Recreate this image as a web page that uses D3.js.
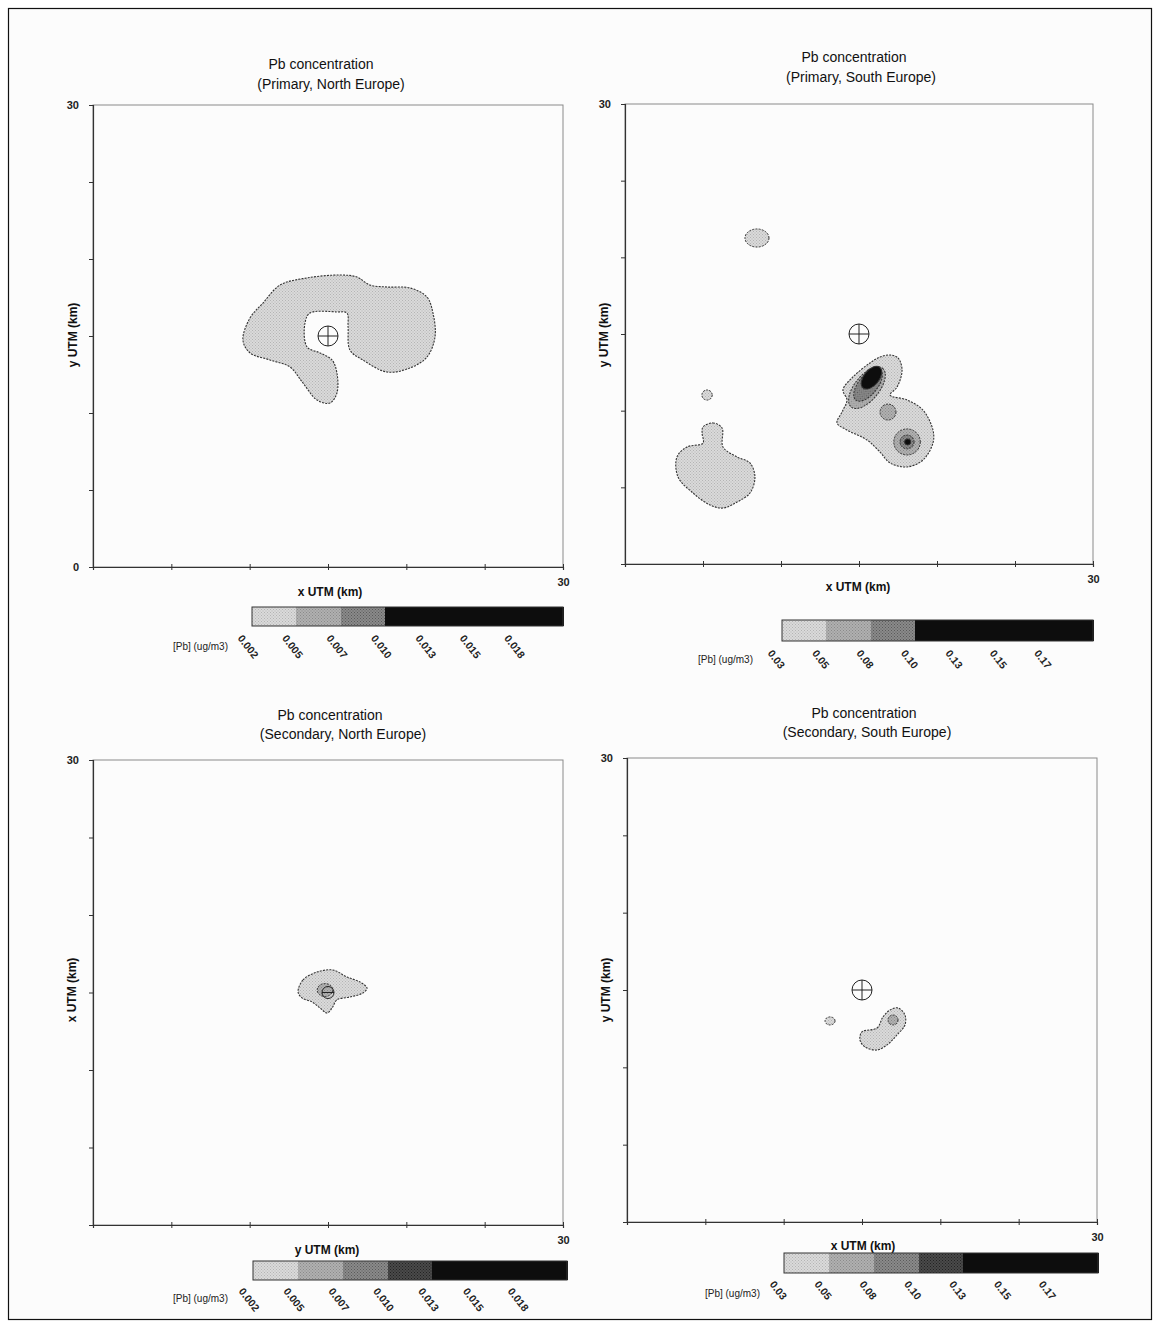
<!DOCTYPE html>
<html>
<head>
<meta charset="utf-8">
<script src="https://cdn.jsdelivr.net/npm/d3@7"></script>
<style>
  body { margin: 0; background: #fff; }
  svg { display: block; font-family: "Liberation Sans", Arial, sans-serif; }
</style>
</head>
<body>
<svg id="chart" width="1160" height="1327"></svg>
<script>
// ---- data (km on a 30 x 30 km UTM grid) ----
const ticksKm = [0, 5, 10, 15, 20, 25, 30];
const titleLine1 = "Pb concentration";
const titleLine2 = ["(Primary, North Europe)", "(Primary, South Europe)",
                    "(Secondary, North Europe)", "(Secondary, South Europe)"];
const xTitles = ["x UTM (km)", "x UTM (km)", "y UTM (km)", "x UTM (km)"];
const yTitles = ["y UTM (km)", "y UTM (km)", "x UTM (km)", "y UTM (km)"];
const legendUnit = "[Pb] (ug/m3)";
const legendNorth = ["0.002", "0.005", "0.007", "0.010", "0.013", "0.015", "0.018"];
const legendSouth = ["0.03", "0.05", "0.08", "0.10", "0.13", "0.15", "0.17"];
const source = [15, 15];

// contour outlines, [x km, y km]
const p1Blob = [[9.57,14.74],[10.02,16.17],[10.85,17.14],[11.94,18.31],[13.66,18.77],[15.77,18.96],
  [16.85,18.83],[17.68,18.31],[18.77,18.18],[20.23,18.12],[21.32,17.53],[21.70,16.49],[21.83,14.94],
  [21.32,13.64],[20.23,12.92],[18.77,12.66],[17.23,13.44],[16.40,14.09],[16.28,15.58],[16.21,16.49],
  [15.57,16.56],[13.85,16.49],[13.53,15.84],[13.66,14.29],[14.49,13.90],[15.26,13.44],[15.57,12.60],
  [15.57,11.30],[15.13,10.65],[14.30,10.84],[13.40,11.95],[12.57,12.99],[11.30,13.44],[10.02,13.90]];
const p2BlobWest = [[5.00,8.94],[5.64,9.20],[6.22,8.87],[6.28,7.63],[7.18,6.98],[8.01,6.59],[8.33,5.67],
  [8.01,4.63],[7.18,4.04],[6.28,3.65],[5.45,3.85],[4.36,4.63],[3.40,5.67],[3.33,6.98],[3.97,7.63],
  [5.00,7.89],[4.94,8.54]];
const p2BlobEast = [[16.99,13.63],[17.50,13.44],[17.76,12.65],[17.44,11.54],[16.99,11.02],[18.08,10.70],
  [19.10,10.04],[19.74,8.74],[19.74,7.89],[19.10,6.78],[18.08,6.33],[16.99,6.59],[16.35,7.30],
  [15.51,8.09],[14.23,8.74],[13.59,9.20],[13.91,9.91],[14.23,10.70],[13.97,11.35],[14.61,12.20],
  [15.70,13.11],[16.35,13.50]];
const p3Blob = [[13.09,15.03],[13.40,15.81],[14.30,16.32],[15.32,16.45],[16.21,16.00],[17.04,15.68],
  [17.49,15.29],[17.23,14.97],[16.40,14.71],[15.57,14.52],[15.26,14.00],[14.94,13.68],[14.49,14.00],
  [13.98,14.39],[13.34,14.65]];
const p4Blob = [[15.00,12.29],[15.96,12.54],[16.34,13.26],[16.79,13.71],[17.30,13.84],[17.74,13.39],
  [17.74,12.74],[17.23,12.09],[16.60,11.45],[15.96,11.12],[15.19,11.32],[14.87,11.77]];

const contours = [
  { panel: 0, level: 0, pts: p1Blob },
  { panel: 1, level: 0, pts: p2BlobWest },
  { panel: 1, level: 0, pts: p2BlobEast },
  { panel: 2, level: 0, pts: p3Blob },
  { panel: 3, level: 0, pts: p4Blob }
];
// small closed contours: centre, radii (km), tilt (deg)
const spots = [
  { panel: 1, level: 0, cx: 8.46, cy: 21.26, rx: 0.77, ry: 0.59, rot: 0 },
  { panel: 1, level: 0, cx: 5.26, cy: 11.02, rx: 0.33, ry: 0.33, rot: 0 },
  { panel: 1, level: 1, cx: 15.51, cy: 11.50, rx: 1.6, ry: 0.8, rot: -51 },
  { panel: 1, level: 2, cx: 15.58, cy: 11.68, rx: 1.25, ry: 0.62, rot: -51 },
  { panel: 1, level: 4, cx: 15.80, cy: 12.15, rx: 0.85, ry: 0.5, rot: -51 },
  { panel: 1, level: 1, cx: 16.86, cy: 9.91, rx: 0.51, ry: 0.52, rot: 0 },
  { panel: 1, level: 1, cx: 18.08, cy: 7.96, rx: 0.85, ry: 0.85, rot: 0 },
  { panel: 1, level: 2, cx: 18.08, cy: 7.96, rx: 0.45, ry: 0.45, rot: 0 },
  { panel: 1, level: 4, cx: 18.12, cy: 7.96, rx: 0.2, ry: 0.2, rot: 0 },
  { panel: 2, level: 1, cx: 14.81, cy: 15.16, rx: 0.5, ry: 0.42, rot: 0 },
  { panel: 3, level: 0, cx: 12.96, cy: 13.00, rx: 0.32, ry: 0.26, rot: 0 },
  { panel: 3, level: 1, cx: 16.98, cy: 13.06, rx: 0.32, ry: 0.32, rot: 0 }
];

// ---- layout ----
const layout = [
  { x0: 93, x1: 563, y0: 105, y1: 567, t1: [321, 69], t2: [331, 89], xt: [330, 596], yt: [77, 335],
    showZero: true, mark: 10, legend: legendNorth, shades: [0, 1, 2, 4, 4, 4, 4],
    leg: { x0: 252, x1: 563, y0: 607, y1: 626, unitX: 228, unitY: 650, labY: 634 } },
  { x0: 625, x1: 1093, y0: 104, y1: 564, t1: [854, 62], t2: [861, 82], xt: [858, 591], yt: [608, 335],
    showZero: false, mark: 10, legend: legendSouth, shades: [0, 1, 2, 4, 4, 4, 4],
    leg: { x0: 782, x1: 1093, y0: 620, y1: 641, unitX: 753, unitY: 663, labY: 649 } },
  { x0: 93, x1: 563, y0: 760, y1: 1225, t1: [330, 720], t2: [343, 739], xt: [327, 1254], yt: [76, 990],
    showZero: false, mark: 6, legend: legendNorth, shades: [0, 1, 2, 3, 4, 4, 4],
    leg: { x0: 253, x1: 567, y0: 1261, y1: 1280, unitX: 228, unitY: 1302, labY: 1287 } },
  { x0: 627, x1: 1097, y0: 758, y1: 1222, t1: [864, 718], t2: [867, 737], xt: [863, 1250], yt: [610, 990],
    showZero: false, mark: 10, legend: legendSouth, shades: [0, 1, 2, 3, 4, 4, 4],
    leg: { x0: 784, x1: 1098, y0: 1253, y1: 1273, unitX: 760, unitY: 1297, labY: 1280 } }
];
const levelFill = ["url(#dotLight)", "url(#dotMid)", "url(#dotDark)", "url(#dotDarker)", "#0d0d0d"];

const svg = d3.select("#chart");

// halftone-ish fills like the scan
const defs = svg.append("defs");
function dotPattern(id, base, dot) {
  const p = defs.append("pattern").attr("id", id).attr("width", 3).attr("height", 3)
    .attr("patternUnits", "userSpaceOnUse");
  p.append("rect").attr("width", 3).attr("height", 3).attr("fill", base);
  p.append("rect").attr("x", 0).attr("y", 0).attr("width", 1).attr("height", 1).attr("fill", dot);
  p.append("rect").attr("x", 1.5).attr("y", 1.5).attr("width", 1).attr("height", 1).attr("fill", dot);
}
dotPattern("dotLight", "#dadada", "#b4b4b4");
dotPattern("dotMid", "#b0b0b0", "#8a8a8a");
dotPattern("dotDark", "#8a8a8a", "#5a5a5a");
dotPattern("dotDarker", "#4a4a4a", "#222");

svg.append("rect").attr("x", 0).attr("y", 0).attr("width", 1160).attr("height", 1327).attr("fill", "#fff");
svg.append("rect").attr("x", 8.5).attr("y", 8.5).attr("width", 1143).attr("height", 1311)
  .attr("fill", "#fcfcfc").attr("stroke", "#111").attr("stroke-width", 1.2);

layout.forEach((L, i) => {
  const x = d3.scaleLinear().domain([0, 30]).range([L.x0, L.x1]);
  const y = d3.scaleLinear().domain([0, 30]).range([L.y1, L.y0]);
  const g = svg.append("g");

  // frame (top / right light)
  g.append("rect").attr("x", L.x0).attr("y", L.y0).attr("width", L.x1 - L.x0).attr("height", L.y1 - L.y0)
    .attr("fill", "none").attr("stroke", "#8a8a8a").attr("stroke-width", 1);

  // filled contours
  const line = d3.line().x(d => x(d[0])).y(d => y(d[1])).curve(d3.curveCatmullRomClosed.alpha(0.5));
  g.selectAll(".blob").data(contours.filter(c => c.panel === i)).join("path")
    .attr("d", d => line(d.pts))
    .attr("fill", d => levelFill[d.level])
    .attr("stroke", "#333").attr("stroke-width", 1.1).attr("stroke-dasharray", "2,1.2");

  g.selectAll(".spot").data(spots.filter(s => s.panel === i)).join("ellipse")
    .attr("cx", d => x(d.cx)).attr("cy", d => y(d.cy))
    .attr("rx", d => x(d.rx) - x(0)).attr("ry", d => y(0) - y(d.ry))
    .attr("transform", d => `rotate(${d.rot},${x(d.cx)},${y(d.cy)})`)
    .attr("fill", d => levelFill[d.level])
    .attr("stroke", "#333").attr("stroke-width", 1).attr("stroke-dasharray", d => d.level === 4 ? null : "2,1.2");

  // source marker
  const sx = x(source[0]), sy = y(source[1]), r = L.mark;
  const m = g.append("g").attr("stroke", "#222").attr("stroke-width", 1).attr("fill", "none");
  m.append("circle").attr("cx", sx).attr("cy", sy).attr("r", r);
  m.append("line").attr("x1", sx - r).attr("x2", sx + r).attr("y1", sy).attr("y2", sy);
  if (i !== 2) m.append("line").attr("x1", sx).attr("x2", sx).attr("y1", sy - r).attr("y2", sy + r);

  // axes
  const yAxis = d3.axisLeft(y).tickValues(ticksKm).tickSize(4).tickPadding(10)
    .tickFormat(d => d === 30 || (d === 0 && L.showZero) ? d : "");
  const ya = g.append("g").attr("transform", `translate(${L.x0},0)`).call(yAxis);
  const xAxis = d3.axisBottom(x).tickValues(ticksKm).tickSize(3).tickPadding(8)
    .tickFormat(d => d === 30 ? d : "");
  const xa = g.append("g").attr("transform", `translate(0,${L.y1})`).call(xAxis);
  xa.selectAll(".tick line").attr("y1", -3);
  [ya, xa].forEach(a => {
    a.select(".domain").attr("stroke", "#333").attr("stroke-width", 1.2);
    a.selectAll(".tick line").attr("stroke", "#333");
    a.selectAll("text").attr("font-family", "Liberation Sans, Arial").attr("font-size", 11)
      .attr("font-weight", "bold").attr("fill", "#222");
  });

  // titles
  g.append("text").attr("x", L.t1[0]).attr("y", L.t1[1]).attr("text-anchor", "middle")
    .attr("font-size", 14).attr("fill", "#111").text(titleLine1);
  g.append("text").attr("x", L.t2[0]).attr("y", L.t2[1]).attr("text-anchor", "middle")
    .attr("font-size", 14).attr("fill", "#111").text(titleLine2[i]);
  g.append("text").attr("x", L.xt[0]).attr("y", L.xt[1]).attr("text-anchor", "middle")
    .attr("font-size", 12).attr("font-weight", "bold").attr("fill", "#111").text(xTitles[i]);
  g.append("text").attr("transform", `translate(${L.yt[0]},${L.yt[1]}) rotate(-90)`)
    .attr("text-anchor", "middle").attr("font-size", 12).attr("font-weight", "bold")
    .attr("fill", "#111").text(yTitles[i]);

  // colour legend
  const band = d3.scaleBand().domain(L.legend).range([L.leg.x0, L.leg.x1]).paddingInner(0);
  g.selectAll(".leg").data(L.legend).join("rect")
    .attr("x", d => band(d)).attr("y", L.leg.y0)
    .attr("width", band.bandwidth() + 1).attr("height", L.leg.y1 - L.leg.y0)
    .attr("shape-rendering", "crispEdges")
    .attr("fill", (d, k) => levelFill[L.shades[k]]);
  g.append("rect").attr("x", L.leg.x0).attr("y", L.leg.y0)
    .attr("width", L.leg.x1 - L.leg.x0).attr("height", L.leg.y1 - L.leg.y0)
    .attr("fill", "none").attr("stroke", "#333").attr("stroke-width", 1);
  g.selectAll(".legLab").data(L.legend).join("text")
    .attr("transform", d => `translate(${band(d) - 9},${L.leg.labY}) rotate(52)`)
    .attr("dy", "0.7em").attr("font-size", 10.5).attr("font-weight", "bold").attr("fill", "#222")
    .text(d => d);
  g.append("text").attr("x", L.leg.unitX).attr("y", L.leg.unitY).attr("text-anchor", "end")
    .attr("font-size", 10).attr("fill", "#222").text(legendUnit);
});
</script>
</body>
</html>
